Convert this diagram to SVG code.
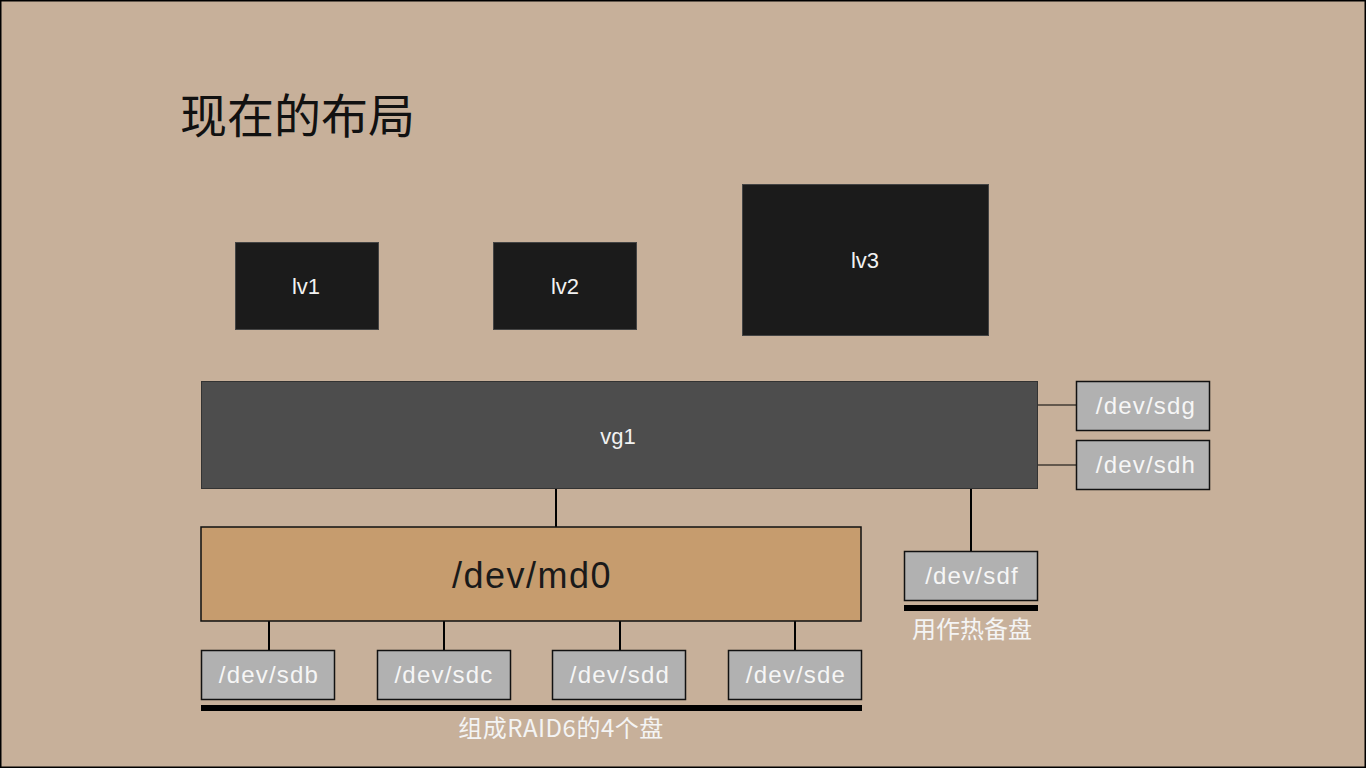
<svg xmlns="http://www.w3.org/2000/svg" width="1366" height="768" viewBox="0 0 1366 768">
<style>
text{font-family:"Liberation Sans","Noto Sans CJK SC",sans-serif;}
.lv{fill:#1b1b1b;stroke:#444;stroke-width:1}
.disk{fill:#b1b1b1;stroke:#111;stroke-width:1.5}
.wt{fill:#f2f2f2;font-size:22px;text-anchor:middle}
.dt{fill:#f6f6f6;font-size:24px;letter-spacing:1.2px;text-anchor:middle}
.cap{fill:#f4f4f4;font-size:24px;text-anchor:middle;font-family:"Noto Sans CJK SC","Liberation Sans",sans-serif}
.ln{stroke:#000;stroke-width:2;fill:none}
.bar{fill:#000}
</style>
<rect x="0.5" y="0.5" width="1365" height="767" fill="#c7b09a" stroke="#000" stroke-width="2"/>
<text x="180" y="133" font-size="47" fill="#111" style="font-family:'Noto Sans CJK SC',sans-serif">现在的布局</text>

<g id="connectors">
<line class="ln" x1="556" y1="489" x2="556" y2="527"/>
<line class="ln" x1="971" y1="489" x2="971" y2="551"/>
<line class="ln" x1="1037" y1="405" x2="1076" y2="405" style="stroke-width:1.2"/>
<line class="ln" x1="1037" y1="465" x2="1076" y2="465" style="stroke-width:1.2"/>
<line class="ln" x1="269" y1="621" x2="269" y2="650"/>
<line class="ln" x1="444" y1="621" x2="444" y2="650"/>
<line class="ln" x1="620" y1="621" x2="620" y2="650"/>
<line class="ln" x1="795" y1="621" x2="795" y2="650"/>
</g>

<g id="lv1"><rect class="lv" x="235.5" y="242.5" width="143" height="87"/><text class="wt" x="306" y="294">lv1</text></g>
<g id="lv2"><rect class="lv" x="493.5" y="242.5" width="143" height="87"/><text class="wt" x="565" y="294">lv2</text></g>
<g id="lv3"><rect class="lv" x="742.5" y="184.5" width="246" height="151"/><text class="wt" x="865" y="268">lv3</text></g>

<g id="vg1"><rect x="201.5" y="381.5" width="836" height="107" fill="#4d4d4d" stroke="#333" stroke-width="1"/><text class="wt" x="618" y="444">vg1</text></g>

<g id="sdg"><rect class="disk" x="1076.5" y="381.5" width="133" height="49"/><text class="dt" x="1146" y="414">/dev/sdg</text></g>
<g id="sdh"><rect class="disk" x="1076.5" y="440.5" width="133" height="49"/><text class="dt" x="1146" y="473">/dev/sdh</text></g>

<g id="md0"><rect x="201" y="527" width="660" height="94" fill="#c69c6e" stroke="#111" stroke-width="1.5"/><text x="532" y="588" font-size="36" letter-spacing="1.5" fill="#1a1a1a" text-anchor="middle">/dev/md0</text></g>

<g id="sdf"><rect class="disk" x="904.5" y="551.5" width="133" height="49"/><text class="dt" x="972" y="584">/dev/sdf</text></g>
<rect class="bar" x="904" y="605" width="134" height="6"/>
<text class="cap" x="972" y="638">用作热备盘</text>

<g id="sdb"><rect class="disk" x="201.5" y="650.5" width="133" height="49"/><text class="dt" x="269" y="683">/dev/sdb</text></g>
<g id="sdc"><rect class="disk" x="377.5" y="650.5" width="133" height="49"/><text class="dt" x="444" y="683">/dev/sdc</text></g>
<g id="sdd"><rect class="disk" x="552.5" y="650.5" width="133" height="49"/><text class="dt" x="620" y="683">/dev/sdd</text></g>
<g id="sde"><rect class="disk" x="728.5" y="650.5" width="133" height="49"/><text class="dt" x="796" y="683">/dev/sde</text></g>
<rect class="bar" x="201" y="705" width="661" height="6"/>
<text class="cap" x="561" y="737" letter-spacing="0.5">组成RAID6的4个盘</text>
</svg>
